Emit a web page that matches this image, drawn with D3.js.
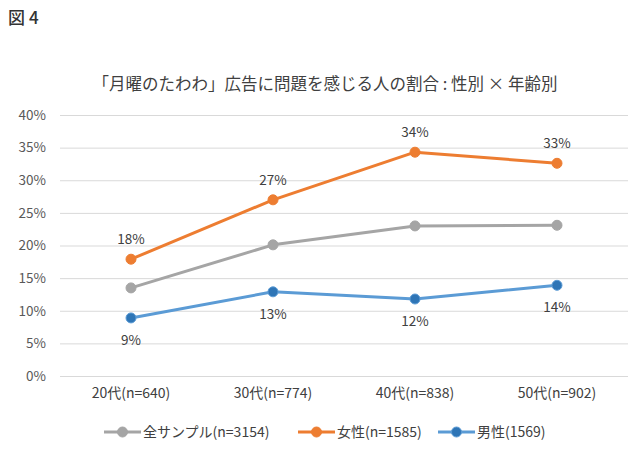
<!DOCTYPE html>
<html>
<head>
<meta charset="utf-8">
<script src="https://cdn.jsdelivr.net/npm/d3@7"></script>
<style>
  body { margin: 0; background: #fff; }
  text { font-family: "Noto Sans CJK JP", "Noto Sans", sans-serif; }
</style>
</head>
<body>
<svg id="chart"></svg>
<script>
// data
const categories = ["20代(n=640)", "30代(n=774)", "40代(n=838)", "50代(n=902)"]
const allSample = [13.5, 20.1, 23.0, 23.1]
const female = [17.9, 27.0, 34.3, 32.6]
const male = [8.9, 12.9, 11.8, 13.9]
const yTicks = [0, 5, 10, 15, 20, 25, 30, 35, 40]
const seriesNames = ["全サンプル(n=3154)", "女性(n=1585)", "男性(1569)"]

const W = 632, H = 453
const svg = d3.select("svg#chart")
              .attr("width", W)
              .attr("height", H)

svg.append("rect")
   .attr("width", W)
   .attr("height", H)
   .attr("fill", "white")

//figure number
svg.append("text")
   .attr("x", 8)
   .attr("y", 24)
   .attr("font-size", 17)
   .attr("font-weight", 500)
   .attr("letter-spacing", 4)
   .attr("fill", "#333")
   .text("図4")

//chart title
svg.append("text")
   .attr("x", 325)
   .attr("y", 90)
   .attr("text-anchor", "middle")
   .attr("font-size", 16.5)
   .attr("fill", "#404040")
   .text("「月曜のたわわ」広告に問題を感じる人の割合 : 性別 × 年齢別")

const x = d3.scaleBand()
            .domain(categories)
            .range([60, 628])

const y = d3.scaleLinear()
            .domain([0, 40])
            .range([376, 115])

//gridlines + y labels
const yAxis = svg.append("g")
   .attr("transform", "translate(60,0)")
   .call(d3.axisLeft(y).tickValues(yTicks).tickSize(-568).tickFormat(d => d + "%").tickPadding(14))
yAxis.select(".domain").remove()
yAxis.selectAll("line").attr("stroke", "#d9d9d9").attr("stroke-width", 1)
yAxis.selectAll("text")
     .attr("font-size", 13.5)
     .attr("fill", "#595959")

//x labels
const xAxis = svg.append("g")
   .attr("transform", "translate(0,376)")
   .call(d3.axisBottom(x).tickSize(0).tickPadding(12))
xAxis.select(".domain").remove()
xAxis.selectAll("text")
     .attr("font-size", 14)
     .attr("fill", "#404040")

const series = [
  { name: seriesNames[0], values: allSample, line: "#a5a5a5", dot: "#a5a5a5", label: null },
  { name: seriesNames[1], values: female, line: "#ed7d31", dot: "#ed7d31", label: "above" },
  { name: seriesNames[2], values: male, line: "#5b9bd5", dot: "#2e75b6", label: "below" }
]

const lineGen = d3.line()
                  .x((d, i) => x(categories[i]) + x.bandwidth() / 2)
                  .y(d => y(d))

series.forEach(s => {
    svg.append("path")
       .datum(s.values)
       .attr("d", lineGen)
       .attr("fill", "none")
       .attr("stroke", s.line)
       .attr("stroke-width", 3)
       .attr("stroke-linejoin", "round")

    svg.selectAll(null)
       .data(s.values)
       .join("circle")
       .attr("cx", (d, i) => x(categories[i]) + x.bandwidth() / 2)
       .attr("cy", d => y(d))
       .attr("r", 5)
       .attr("fill", s.dot)
       .attr("stroke", s.line)
       .attr("stroke-width", 1)

    if (s.label) {
        svg.selectAll(null)
           .data(s.values)
           .join("text")
           .attr("x", (d, i) => x(categories[i]) + x.bandwidth() / 2)
           .attr("y", d => s.label === "above" ? y(d) - 15 : y(d) + 27)
           .attr("text-anchor", "middle")
           .attr("font-size", 13.5)
           .attr("fill", "#404040")
           .text(d => Math.round(d) + "%")
    }
})

//legend
const legendX = [104, 298, 438]
const legend = svg.selectAll("g.legend")
   .data(series)
   .join("g")
   .attr("class", "legend")
   .attr("transform", (d, i) => `translate(${legendX[i]},432)`)

legend.append("line")
      .attr("x1", 0)
      .attr("x2", 37)
      .attr("stroke", d => d.line)
      .attr("stroke-width", 3)
legend.append("circle")
      .attr("cx", 18.5)
      .attr("r", 5)
      .attr("fill", d => d.dot)
      .attr("stroke", d => d.line)
legend.append("text")
      .attr("x", 39)
      .attr("y", 5)
      .attr("font-size", 14)
      .attr("fill", "#404040")
      .text(d => d.name)
</script>
</body>
</html>
